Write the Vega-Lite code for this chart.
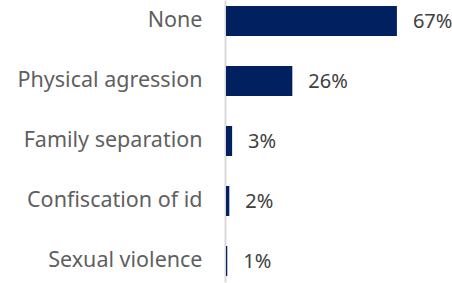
{
  "$schema": "https://vega.github.io/schema/vega-lite/v6.json",
  "width": 226,
  "height": 282,
  "autosize": "none",
  "padding": {"left": 226, "top": 0, "right": 0, "bottom": 1},
  "background": "white",
  "config": {"view": {"stroke": null}, "font": "Noto Sans"},
  "data": {
    "values": [
      {"category": "None", "value": 67, "label": "67%"},
      {"category": "Physical agression", "value": 26, "label": "26%"},
      {"category": "Family separation", "value": 2.4, "label": "3%"},
      {"category": "Confiscation of id", "value": 1.3, "label": "2%"},
      {"category": "Sexual violence", "value": 0.5, "label": "1%"}
    ]
  },
  "encoding": {
    "y": {
      "field": "category",
      "type": "nominal",
      "sort": null,
      "title": null,
      "scale": {"paddingInner": 0.5, "paddingOuter": 0.1},
      "axis": {
        "ticks": false,
        "offset": 1,
        "domainColor": "#d9d9d9",
        "domainWidth": 2,
        "labelFont": "Noto Sans",
        "labelFontSize": 21.5,
        "labelColor": "#5f5f5f",
        "labelPadding": 23,
        "labelLimit": 300
      }
    },
    "x": {
      "field": "value",
      "type": "quantitative",
      "scale": {"domain": [0, 88.6], "nice": false},
      "axis": null
    }
  },
  "layer": [
    {"mark": {"type": "bar", "color": "#002060", "cornerRadius": 0}},
    {
      "mark": {"type": "text", "align": "left", "baseline": "middle", "dx": 16, "dy": 1, "font": "Noto Sans", "fontSize": 20, "color": "#404040"},
      "encoding": {"text": {"field": "label"}}
    }
  ]
}
